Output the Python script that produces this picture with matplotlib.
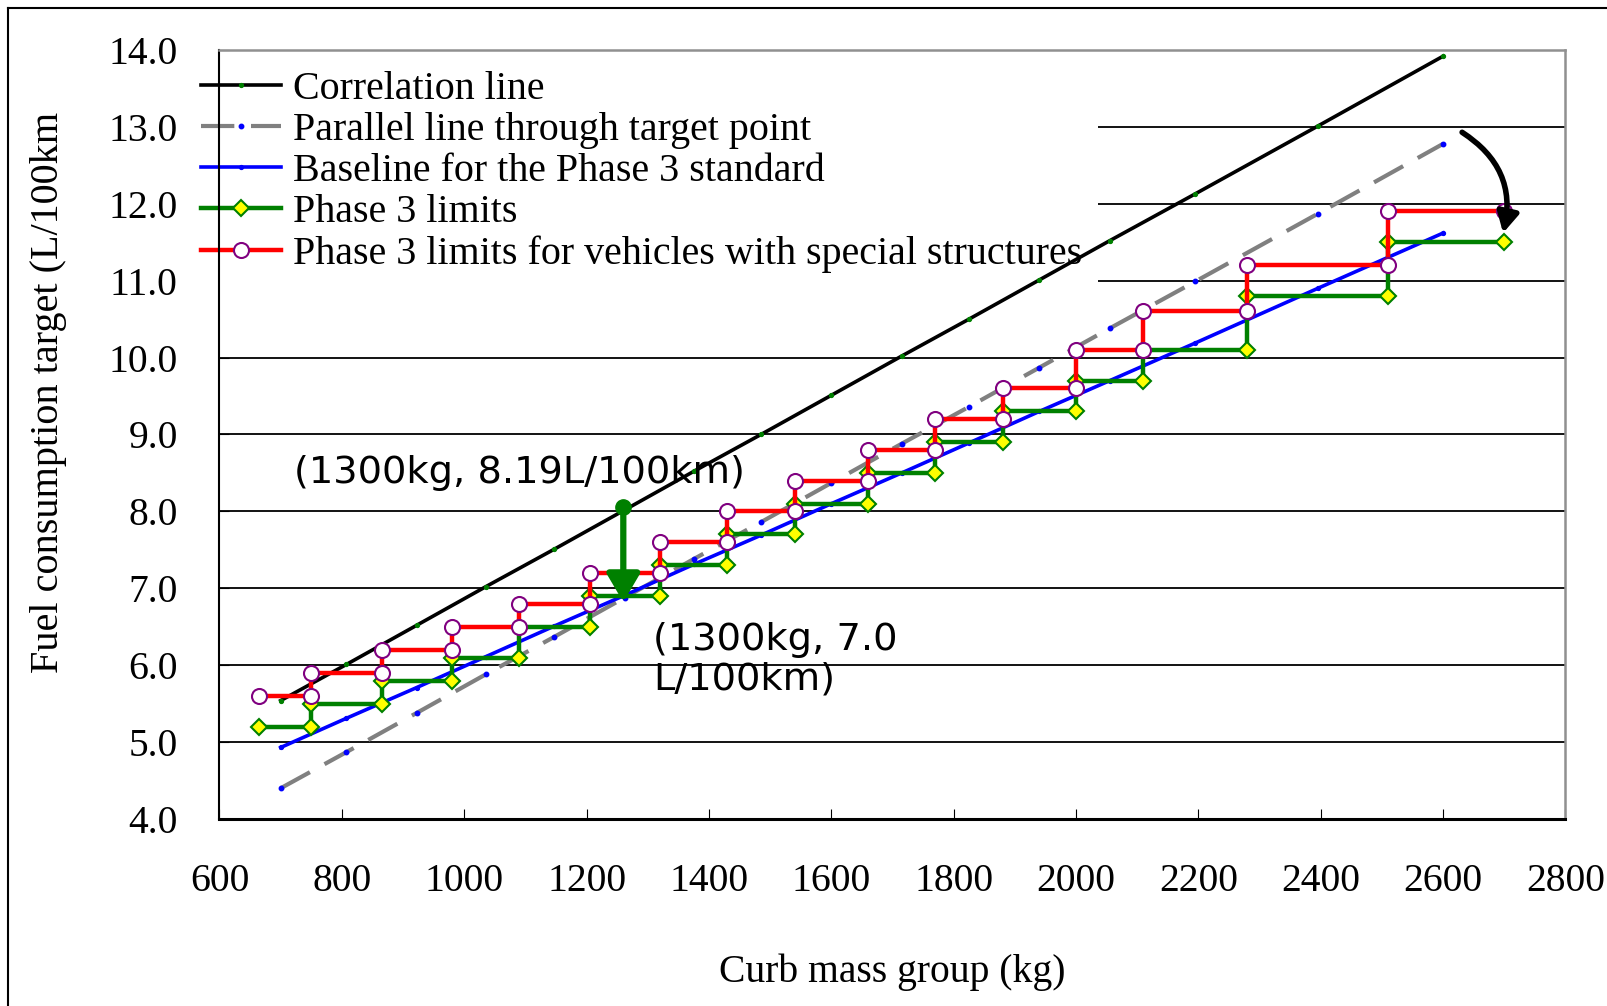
import matplotlib.pyplot as plt
from matplotlib.lines import Line2D

# curb mass group bounds (kg) and Phase 3 limits (L/100km)
group_bounds = [665, 750, 865, 980, 1090, 1205, 1320, 1430, 1540, 1660,
                1770, 1880, 2000, 2110, 2280, 2510, 2700]
phase3_limits = [5.2, 5.5, 5.8, 6.1, 6.5, 6.9, 7.3, 7.7, 8.1, 8.5,
                 8.9, 9.3, 9.7, 10.1, 10.8, 11.5]
special_limits = [5.6, 5.9, 6.2, 6.5, 6.8, 7.2, 7.6, 8.0, 8.4, 8.8,
                  9.2, 9.6, 10.1, 10.6, 11.2, 11.9]

# reference lines, evaluated at group mid masses
line_mass = [700, 807.5, 922.5, 1035, 1147.5, 1262.5, 1375, 1485, 1600,
             1715, 1825, 1940, 2055, 2195, 2395, 2600]
correlation = [5.54, 6.01, 6.52, 7.02, 7.51, 8.02, 8.52, 9.00, 9.51,
               10.02, 10.50, 11.01, 11.52, 12.13, 13.01, 13.92]
parallel = [4.40, 4.87, 5.38, 5.88, 6.37, 6.88, 7.38, 7.86, 8.37,
            8.88, 9.36, 9.87, 10.38, 10.99, 11.87, 12.78]
baseline = [4.93, 5.31, 5.71, 6.11, 6.51, 6.91, 7.31, 7.69, 8.10,
            8.50, 8.89, 9.30, 9.70, 10.19, 10.90, 11.62]

x_ticks = [600, 800, 1000, 1200, 1400, 1600, 1800, 2000, 2200, 2400, 2600, 2800]
y_ticks = [4, 5, 6, 7, 8, 9, 10, 11, 12, 13, 14]

# step series: each group drawn as a flat segment, vertical jumps between
step_x, step_y, step_y2 = [], [], []
for i in range(len(phase3_limits)):
    step_x += [group_bounds[i], group_bounds[i + 1]]
    step_y += [phase3_limits[i], phase3_limits[i]]
    step_y2 += [special_limits[i], special_limits[i]]

serif = "Liberation Serif"
W, H = 1608, 1006

fig = plt.figure(figsize=(W / 100, H / 100), dpi=100)
ax = fig.add_axes([219.5 / W, 1 - 819 / H, 1346 / W, 769 / H])

ax.plot(line_mass, correlation, color="black", lw=2.6, marker="o", ms=2.8,
        mfc="green", mec="green", label="Correlation line")
ax.plot(line_mass, parallel, color="#808080", lw=3, dashes=(8, 4), marker="o",
        ms=3.2, mfc="blue", mec="blue", label="Parallel line through target point")
ax.plot(line_mass, baseline, color="blue", lw=2.6, marker="o", ms=2.8,
        mfc="blue", mec="blue", label="Baseline for the Phase 3 standard")
ax.plot(step_x, step_y, color="green", lw=3.2, marker="D", ms=8.3, mfc="yellow",
        mec="green", mew=1.5, label="Phase 3 limits")
ax.plot(step_x, step_y2, color="red", lw=3.2, marker="o", ms=10.8, mfc="white",
        mec="purple", mew=1.5,
        label="Phase 3 limits for vehicles with special structures")

# green arrow from correlation line down to the target point
ax.plot([1260], [8.06], "o", color="green", ms=11)
ax.annotate("", xy=(1260, 6.82), xytext=(1260, 8.06),
            arrowprops=dict(arrowstyle="-|>,head_length=0.85,head_width=0.5",
                            color="green", lw=4.5, mutation_scale=20,
                            shrinkA=0, shrinkB=0))
# black curved arrow at the right end
ax.annotate("", xy=(2698, 11.62), xytext=(2631, 12.93),
            arrowprops=dict(arrowstyle="-|>,head_length=0.6,head_width=0.32",
                            color="black", lw=4, mutation_scale=20,
                            shrinkA=0, shrinkB=0,
                            connectionstyle="arc3,rad=-0.35"))

ax.text(722, 8.5, "(1300kg, 8.19L/100km)", fontsize=27.6, family="DejaVu Sans",
        va="center", ha="left")
ax.text(1309, 6.07, "(1300kg, 7.0\nL/100km)", fontsize=27.6, family="DejaVu Sans",
        va="center", ha="left", linespacing=1.15)

ax.set_xlim(600, 2800)
ax.set_ylim(4, 14)
ax.set_xticks(x_ticks)
ax.set_yticks(y_ticks)
ax.set_yticklabels([f"{v:.1f}" for v in y_ticks])
ax.tick_params(direction="in", length=7, width=0.8, color="black",
               labelsize=28.5)
ax.tick_params(axis="x", pad=31.5)
ax.tick_params(axis="y", pad=30)
for lab in ax.get_xticklabels() + ax.get_yticklabels():
    lab.set_family(serif)

ax.grid(axis="y", color="black", lw=1.3)
ax.grid(axis="x", visible=False)

for side in ["top", "right"]:
    ax.spines[side].set_color("#909090")
    ax.spines[side].set_linewidth(1.8)
ax.spines["left"].set_linewidth(1.5)
ax.spines["bottom"].set_linewidth(2.2)

leg = ax.legend(loc="upper left",
                bbox_to_anchor=(185 / W, 1 - 55 / H),
                bbox_transform=fig.transFigure, borderaxespad=0,
                prop={"family": serif, "size": 28.8}, handlelength=2.0,
                handletextpad=0.3, labelspacing=0.1, borderpad=0.4,
                frameon=True, fancybox=False, edgecolor="none",
                facecolor="white", framealpha=1)
leg.set_zorder(1.8)

fig.text(49 / W, 1 - 392 / H, "Fuel consumption target (L/100km",
         rotation=90, ha="center", va="center", fontsize=29, family=serif)
fig.text(892 / W, 1 - 972 / H, "Curb mass group (kg)", ha="center",
         va="center", fontsize=28.5, family=serif)

# outer chart frame (left and top edges)
fig.add_artist(Line2D([8 / W, 8 / W], [0, 1 - 8 / H], color="black", lw=1.5))
fig.add_artist(Line2D([8 / W, 1], [1 - 8 / H, 1 - 8 / H], color="black", lw=1.5))

fig.savefig("out.png", dpi=100)
